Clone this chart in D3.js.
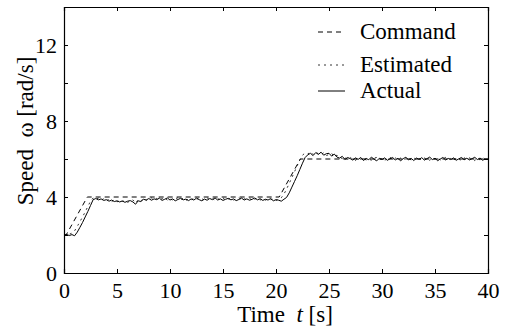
<!DOCTYPE html>
<html>
<head>
<meta charset="utf-8">
<script src="https://cdn.jsdelivr.net/npm/d3@7"></script>
<style>
  body { margin: 0; background: #fff; }
  text { font-family: "Liberation Serif", "Times New Roman", serif; fill: #000; }
</style>
</head>
<body>
<div id="content"></div>
<script>
const svgWidth = 508, svgHeight = 331;
const margin = {top: 7, right: 20, bottom: 58, left: 64};

// command profile (break points)
const cmdTime  = [0, 0.2, 2.2, 20.3, 22.3, 40];
const cmdSpeed = [2, 2, 4, 4, 6, 6];

// sampled every 0.25 s from t = 0 to t = 40
const sampleStep = 0.25;
const actualSpeed = [
  2.00, 2.03, 1.97, 2.02,
  1.96, 2.15, 2.40, 2.66,
  2.95, 3.24, 3.55, 3.86,
  3.92, 3.85, 3.90, 3.82,
  3.86, 3.78, 3.84, 3.76,
  3.80, 3.74, 3.79, 3.72,
  3.78, 3.81, 3.74, 3.62,
  3.80, 3.76, 3.88, 3.84,
  3.92, 3.83, 3.90, 3.86,
  3.94, 3.82, 3.88, 3.95,
  3.84, 3.90, 3.80, 3.87,
  3.93, 3.85, 3.89, 3.81,
  3.90, 3.84, 3.94, 3.86,
  3.80, 3.89, 3.83, 3.92,
  3.86, 3.95, 3.84, 3.90,
  3.82, 3.88, 3.93, 3.85,
  3.90, 3.81, 3.87, 3.94,
  3.84, 3.90, 3.83, 3.88,
  3.95, 3.85, 3.91, 3.82,
  3.88, 3.84, 3.92, 3.80,
  3.86, 3.83, 3.78, 3.88,
  3.98, 4.22, 4.52, 4.82,
  5.12, 5.45, 5.78, 6.08,
  6.22, 6.30, 6.18, 6.34,
  6.24, 6.36, 6.20, 6.28,
  6.30, 6.15, 6.26, 6.10,
  6.05, 6.14, 5.98, 6.08,
  6.02, 5.94, 6.06, 5.98,
  6.08, 5.92, 6.03, 5.96,
  6.10, 5.99, 5.90, 6.04,
  5.97, 6.06, 5.93, 6.01,
  6.08, 5.95, 6.04, 5.90,
  6.02, 6.09, 5.96, 6.03,
  5.92, 6.05, 5.98, 6.07,
  5.94, 6.02, 6.10, 5.97,
  6.04, 5.91, 6.00, 6.08,
  5.95, 6.03, 5.97, 6.06,
  5.93, 6.01, 6.08, 5.96,
  6.04, 5.95, 6.02, 6.09,
  5.97, 6.05, 5.93, 6.02,
  6.00
];
const estimatedSpeed = [
  2.00, 1.98, 2.04, 2.10,
  2.22, 2.45, 2.70, 2.95,
  3.22, 3.50, 3.78, 3.95,
  3.88, 3.94, 3.83, 3.91,
  3.80, 3.88, 3.76, 3.85,
  3.74, 3.83, 3.77, 3.81,
  3.72, 3.79, 3.85, 3.68,
  3.86, 3.79, 3.93, 3.82,
  3.88, 3.95, 3.84, 3.93,
  3.85, 3.91, 3.97, 3.83,
  3.92, 3.83, 3.91, 3.96,
  3.86, 3.94, 3.82, 3.90,
  3.85, 3.93, 3.87, 3.96,
  3.91, 3.84, 3.95, 3.87,
  3.92, 3.83, 3.91, 3.86,
  3.95, 3.84, 3.89, 3.93,
  3.83, 3.92, 3.96, 3.85,
  3.91, 3.86, 3.94, 3.83,
  3.89, 3.93, 3.84, 3.90,
  3.83, 3.92, 3.86, 3.90,
  3.81, 3.90, 3.96, 4.15,
  4.42, 4.72, 5.02, 5.33,
  5.65, 5.96, 6.20, 6.32,
  6.26, 6.38, 6.24, 6.35,
  6.28, 6.22, 6.33, 6.18,
  6.24, 6.30, 6.12, 6.20,
  6.10, 6.02, 6.12, 5.95,
  6.07, 6.00, 5.92, 6.05,
  5.99, 6.07, 5.94, 6.01,
  5.93, 6.05, 6.08, 5.96,
  6.03, 5.92, 6.04, 6.09,
  5.99, 6.06, 5.93, 6.05,
  5.95, 6.01, 6.07, 5.94,
  6.06, 5.96, 6.03, 5.93,
  6.05, 5.98, 5.92, 6.06,
  5.99, 6.07, 5.95, 6.02,
  6.08, 5.96, 6.04, 5.93,
  6.05, 5.98, 5.94, 6.07,
  5.96, 6.06, 5.99, 5.92,
  6.04, 5.95, 6.07, 5.99,
  6.01
];

const xTicks = [0, 5, 10, 15, 20, 25, 30, 35, 40];
const yTicks = [0, 2, 4, 6, 8, 10, 12, 14];
const yLabels = [0, 4, 8, 12];

const legendItems = [
  {name: "Command",   dash: "5,4", width: 1},
  {name: "Estimated", dash: "2,4", width: 0.8},
  {name: "Actual",    dash: null,  width: 1}
];

const svg = d3.select("#content").append("svg")
  .attr("width", svgWidth)
  .attr("height", svgHeight);

const w = svgWidth - margin.left - margin.right;
const h = svgHeight - margin.top - margin.bottom;

const x = d3.scaleLinear().domain([0, 40]).range([margin.left, margin.left + w]);
const y = d3.scaleLinear().domain([0, 14]).range([margin.top + h, margin.top]);

// ticks pointing inward on all four sides
svg.append("g").attr("transform", `translate(0,${margin.top + h})`)
  .call(d3.axisBottom(x).tickValues(xTicks).tickSize(-4).tickPadding(9).tickFormat(d3.format("d")));
svg.append("g").attr("transform", `translate(0,${margin.top})`)
  .call(d3.axisTop(x).tickValues(xTicks).tickSize(-4).tickFormat(""));
svg.append("g").attr("transform", `translate(${margin.left},0)`)
  .call(d3.axisLeft(y).tickValues(yTicks).tickSize(-4).tickPadding(7)
    .tickFormat(d => yLabels.includes(d) ? d : ""));
svg.append("g").attr("transform", `translate(${margin.left + w},0)`)
  .call(d3.axisRight(y).tickValues(yTicks).tickSize(-4).tickFormat(""));

svg.selectAll(".domain").attr("stroke", "#000").attr("stroke-width", 1.2);
svg.selectAll(".tick line").attr("stroke", "#000");
svg.selectAll(".tick text").attr("font-size", 22).attr("font-family", "Liberation Serif").attr("fill", "#000");

const line = d3.line().x(d => x(d[0])).y(d => y(d[1]));

const cmdData = cmdTime.map((t, i) => [t, cmdSpeed[i]]);
const actData = actualSpeed.map((v, i) => [i * sampleStep, v]);
const estData = estimatedSpeed.map((v, i) => [i * sampleStep, v]);

svg.append("path").datum(estData)
  .attr("d", line).attr("fill", "none")
  .attr("stroke", "#000").attr("stroke-width", 0.8).attr("stroke-dasharray", "2,4");
svg.append("path").datum(actData)
  .attr("d", line).attr("fill", "none")
  .attr("stroke", "#000").attr("stroke-width", 1);
svg.append("path").datum(cmdData)
  .attr("d", line).attr("fill", "none")
  .attr("stroke", "#000").attr("stroke-width", 1).attr("stroke-dasharray", "5,4");

// legend
const legend = svg.append("g");
const rowY = [39, 72, 98];
legendItems.forEach((it, i) => {
  legend.append("line")
    .attr("x1", 318).attr("x2", 345).attr("y1", rowY[i] - 7).attr("y2", rowY[i] - 7)
    .attr("stroke", "#000").attr("stroke-width", it.width)
    .attr("stroke-dasharray", it.dash);
  legend.append("text")
    .attr("x", 360).attr("y", rowY[i])
    .attr("font-size", 23)
    .text(it.name);
});

// axis titles
svg.append("text")
  .attr("x", 285).attr("y", 322)
  .attr("text-anchor", "middle").attr("font-size", 23)
  .html('Time\u2002<tspan font-style="italic">t</tspan> [s]');

svg.append("text")
  .attr("transform", "translate(33,131) rotate(-90)")
  .attr("text-anchor", "middle").attr("font-size", 23)
  .text("Speed\u2002\u03c9 [rad/s]");
</script>
</body>
</html>
